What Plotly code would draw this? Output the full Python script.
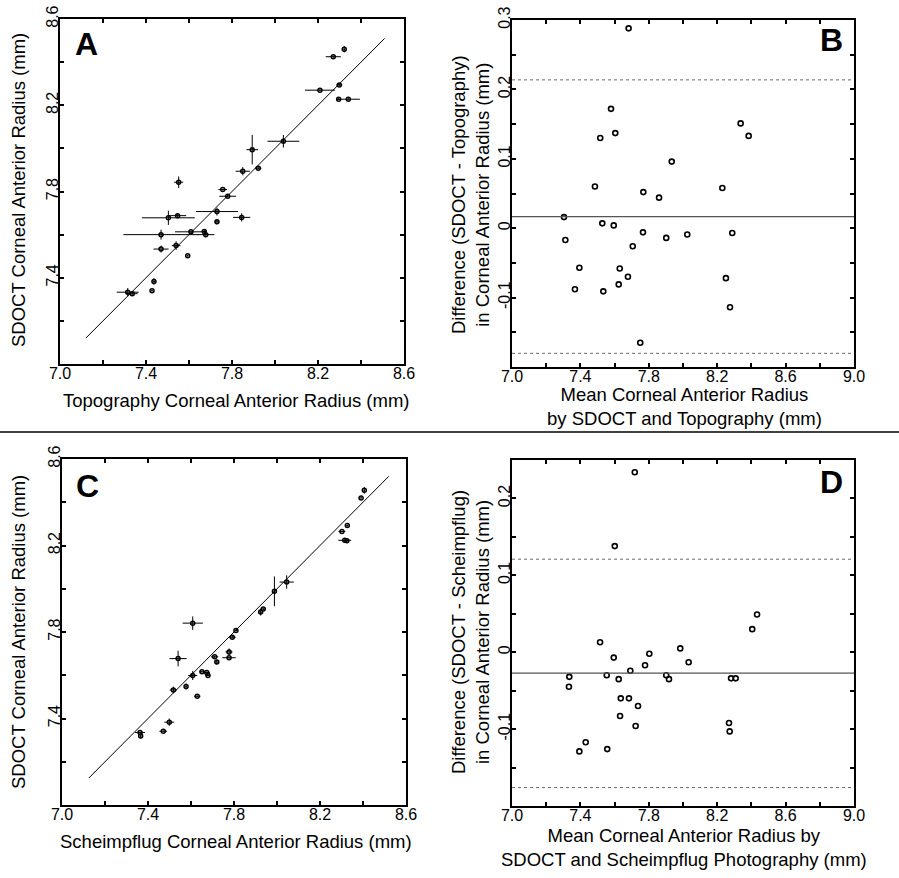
import plotly.graph_objects as go

# ---------------- Data ----------------
# Panel A: Topography (x) vs SDOCT (y), with SDs as error bars
topo_x = [8.322, 8.271, 8.209, 8.299, 8.296, 8.341, 8.039, 7.894, 7.922, 7.850,
          7.552, 7.757, 7.780, 7.730, 7.845, 7.730, 7.504, 7.547, 7.470, 7.609,
          7.671, 7.678, 7.470, 7.540, 7.594, 7.437, 7.428, 7.315, 7.336]
topo_sdoct_y = [8.460, 8.425, 8.270, 8.294, 8.228, 8.228, 8.033, 7.994, 7.908, 7.894,
                7.843, 7.809, 7.778, 7.707, 7.680, 7.660, 7.678, 7.688, 7.600, 7.613,
                7.615, 7.600, 7.533, 7.549, 7.502, 7.383, 7.340, 7.333, 7.326]
topo_xerr = [0.005, 0.035, 0.070, 0.014, 0.006, 0.054, 0.074, 0.027, 0.015, 0.033,
             0.021, 0.020, 0.039, 0.098, 0.040, 0.010, 0.123, 0.040, 0.175, 0.074,
             0.012, 0.040, 0.035, 0.020, 0.004, 0.006, 0.004, 0.051, 0.025]
topo_yerr = [0.015, 0.005, 0.004, 0.006, 0.004, 0.005, 0.029, 0.068, 0.006, 0.019,
             0.027, 0.004, 0.005, 0.018, 0.019, 0.012, 0.033, 0.012, 0.023, 0.006,
             0.010, 0.008, 0.016, 0.020, 0.004, 0.015, 0.004, 0.019, 0.006]

# Panel B: Bland-Altman SDOCT vs Topography
ba_topo_mean = [7.682, 7.579, 7.516, 7.604, 8.337, 8.384, 7.934, 7.485, 8.230, 7.768,
                7.860, 7.304, 7.528, 7.595, 7.312, 7.766, 7.902, 8.025, 8.288, 7.706,
                7.394, 7.630, 7.678, 7.624, 7.368, 7.534, 8.251, 8.275, 7.750]
ba_topo_diff = [0.288, 0.172, 0.130, 0.137, 0.151, 0.133, 0.096, 0.060, 0.058, 0.052,
                0.044, 0.016, 0.007, 0.004, -0.017, -0.006, -0.014, -0.009, -0.007, -0.026,
                -0.057, -0.058, -0.070, -0.081, -0.088, -0.091, -0.072, -0.114, -0.165]
ba_topo_bias = 0.0167
ba_topo_upper = 0.2137
ba_topo_lower = -0.1803

# Panel C: Scheimpflug (x) vs SDOCT (y)
sch_x = [8.406, 8.391, 8.327, 8.302, 8.315, 8.325, 8.045, 7.988, 7.924, 7.936,
         7.608, 7.809, 7.792, 7.540, 7.777, 7.777, 7.710, 7.720, 7.651, 7.673,
         7.679, 7.608, 7.518, 7.577, 7.629, 7.499, 7.471, 7.363, 7.366]
sch_sdoct_y = [8.455, 8.420, 8.292, 8.265, 8.224, 8.222, 8.031, 7.988, 7.892, 7.906,
               7.841, 7.807, 7.776, 7.677, 7.708, 7.681, 7.685, 7.661, 7.616, 7.613,
               7.599, 7.599, 7.532, 7.548, 7.503, 7.383, 7.341, 7.335, 7.319]
sch_xerr = [0.004, 0.004, 0.005, 0.016, 0.030, 0.010, 0.033, 0.005, 0.008, 0.010,
            0.047, 0.005, 0.016, 0.040, 0.016, 0.031, 0.017, 0.010, 0.012, 0.015,
            0.010, 0.021, 0.017, 0.004, 0.015, 0.023, 0.018, 0.023, 0.005]
sch_yerr = [0.015, 0.004, 0.005, 0.004, 0.004, 0.004, 0.031, 0.069, 0.016, 0.005,
            0.031, 0.005, 0.006, 0.036, 0.016, 0.005, 0.005, 0.010, 0.004, 0.004,
            0.004, 0.021, 0.015, 0.014, 0.004, 0.017, 0.004, 0.005, 0.010]

# Panel D: Bland-Altman SDOCT vs Scheimpflug
ba_sch_mean = [7.718, 7.601, 8.433, 8.405, 7.515, 7.984, 7.803, 7.595, 8.033, 7.778,
               7.692, 7.554, 7.335, 7.902, 7.918, 7.624, 8.281, 8.308, 7.333, 7.636,
               7.684, 7.737, 7.632, 8.269, 7.723, 8.273, 7.431, 7.394, 7.557]
ba_sch_diff = [0.234, 0.138, 0.049, 0.030, 0.013, 0.005, -0.002, -0.007, -0.013, -0.017,
               -0.024, -0.030, -0.032, -0.030, -0.035, -0.035, -0.034, -0.034, -0.045, -0.060,
               -0.060, -0.070, -0.083, -0.092, -0.096, -0.103, -0.117, -0.129, -0.126]
ba_sch_bias = -0.0273
ba_sch_upper = 0.121
ba_sch_lower = -0.176

# identity lines
ident_a = [7.12, 8.51]
ident_c = [7.125, 8.52]

# tick definitions
radius_ticks = [7.0, 7.2, 7.4, 7.6, 7.8, 8.0, 8.2, 8.4, 8.6]
radius_x_text = ["7.0", "", "7.4", "", "7.8", "", "8.2", "", "8.6"]
radius_y_text = ["", "", "7.4", "", "7.8", "", "8.2", "", "8.6"]
mean_ticks = [7.0, 7.2, 7.4, 7.6, 7.8, 8.0, 8.2, 8.4, 8.6, 8.8, 9.0]
mean_text = ["7.0", "", "7.4", "", "7.8", "", "8.2", "", "8.6", "", "9.0"]
diffB_ticks = [-0.2, -0.15, -0.1, -0.05, 0, 0.05, 0.1, 0.15, 0.2, 0.25, 0.3]
diffB_text = ["", "", "-0.1", "", "0", "", "0.1", "", "0.2", "", "0.3"]
diffD_ticks = [-0.2, -0.15, -0.1, -0.05, 0, 0.05, 0.1, 0.15, 0.2, 0.25]
diffD_text = ["", "", "-0.1", "", "0", "", "0.1", "", "0.2", ""]

W, H = 899, 878
FONT = "Arial, Liberation Sans, Helvetica, sans-serif"


def px_x(p):
    return p / W


def px_y(p):
    return 1 - p / H


fig = go.Figure()

err_style = dict(type="data", thickness=1, width=0, color="black")

# Panel A
fig.add_trace(go.Scatter(x=ident_a, y=ident_a, mode="lines",
                         line=dict(color="black", width=1), xaxis="x", yaxis="y",
                         showlegend=False, hoverinfo="skip"))
fig.add_trace(go.Scatter(x=topo_x, y=topo_sdoct_y, mode="markers",
                         marker=dict(symbol="circle-open", size=4, color="black",
                                     line=dict(width=1.5, color="black")),
                         error_x=dict(array=topo_xerr, **err_style),
                         error_y=dict(array=topo_yerr, **err_style),
                         xaxis="x", yaxis="y", showlegend=False))
# Panel B
fig.add_trace(go.Scatter(x=ba_topo_mean, y=ba_topo_diff, mode="markers",
                         marker=dict(symbol="circle-open", size=5, color="black",
                                     line=dict(width=1.6, color="black")),
                         xaxis="x2", yaxis="y2", showlegend=False))
# Panel C
fig.add_trace(go.Scatter(x=ident_c, y=ident_c, mode="lines",
                         line=dict(color="black", width=1), xaxis="x3", yaxis="y3",
                         showlegend=False, hoverinfo="skip"))
fig.add_trace(go.Scatter(x=sch_x, y=sch_sdoct_y, mode="markers",
                         marker=dict(symbol="circle-open", size=4, color="black",
                                     line=dict(width=1.5, color="black")),
                         error_x=dict(array=sch_xerr, **err_style),
                         error_y=dict(array=sch_yerr, **err_style),
                         xaxis="x3", yaxis="y3", showlegend=False))
# Panel D
fig.add_trace(go.Scatter(x=ba_sch_mean, y=ba_sch_diff, mode="markers",
                         marker=dict(symbol="circle-open", size=5, color="black",
                                     line=dict(width=1.6, color="black")),
                         xaxis="x4", yaxis="y4", showlegend=False))

axis_common = dict(showline=True, linecolor="black", linewidth=2, mirror="allticks",
                   ticks="inside", ticklen=4, tickwidth=1.5, tickcolor="black",
                   showgrid=False, zeroline=False, tickmode="array", automargin=False,
                   ticklabelstandoff=-6,
                   tickfont=dict(family=FONT, size=16, color="black"))

doms = {
    "A": ([px_x(60), px_x(404)], [px_y(364), px_y(19)]),
    "B": ([px_x(512), px_x(854)], [px_y(367), px_y(20)]),
    "C": ([px_x(62), px_x(406)], [px_y(805), px_y(459)]),
    "D": ([px_x(512), px_x(854)], [px_y(806), px_y(460)]),
}

fig.update_layout(
    xaxis=dict(domain=doms["A"][0], range=[7.0, 8.6], tickvals=radius_ticks,
               ticktext=radius_x_text, anchor="y", **axis_common),
    yaxis=dict(domain=doms["A"][1], range=[7.0, 8.6], tickvals=radius_ticks,
               ticktext=radius_y_text, tickangle=-90, anchor="x", **axis_common),
    xaxis2=dict(domain=doms["B"][0], range=[7.0, 9.0], tickvals=mean_ticks,
                ticktext=mean_text, anchor="y2", **axis_common),
    yaxis2=dict(domain=doms["B"][1], range=[-0.2, 0.3], tickvals=diffB_ticks,
                ticktext=diffB_text, tickangle=-90, anchor="x2", **axis_common),
    xaxis3=dict(domain=doms["C"][0], range=[7.0, 8.6], tickvals=radius_ticks,
                ticktext=radius_x_text, anchor="y3", **axis_common),
    yaxis3=dict(domain=doms["C"][1], range=[7.0, 8.6], tickvals=radius_ticks,
                ticktext=radius_y_text, tickangle=-90, anchor="x3", **axis_common),
    xaxis4=dict(domain=doms["D"][0], range=[7.0, 9.0], tickvals=mean_ticks,
                ticktext=mean_text, anchor="y4", **axis_common),
    yaxis4=dict(domain=doms["D"][1], range=[-0.2, 0.25], tickvals=diffD_ticks,
                ticktext=diffD_text, tickangle=-90, anchor="x4", **axis_common),
)

shapes = []
# Bland-Altman lines
for xr, yr, bias, up, lo in [("x2 domain", "y2", ba_topo_bias, ba_topo_upper, ba_topo_lower),
                             ("x4 domain", "y4", ba_sch_bias, ba_sch_upper, ba_sch_lower)]:
    shapes.append(dict(type="line", xref=xr, yref=yr, x0=0, x1=1, y0=bias, y1=bias,
                       line=dict(color="#555555", width=1.2)))
    for v in (up, lo):
        shapes.append(dict(type="line", xref=xr, yref=yr, x0=0, x1=1, y0=v, y1=v,
                           line=dict(color="#444444", width=0.8, dash="dot")))
# separator between rows
shapes.append(dict(type="line", xref="paper", yref="paper", x0=0, x1=1,
                   y0=px_y(432), y1=px_y(432), line=dict(color="black", width=1.5)))

TF = dict(family=FONT, size=18.5, color="black")
annotations = [
    # panel letters
    dict(text="<b>A</b>", x=px_x(86), y=px_y(44), font=dict(family=FONT, size=32, color="black")),
    dict(text="<b>B</b>", x=px_x(831), y=px_y(40), font=dict(family=FONT, size=32, color="black")),
    dict(text="<b>C</b>", x=px_x(87), y=px_y(486), font=dict(family=FONT, size=32, color="black")),
    dict(text="<b>D</b>", x=px_x(831), y=px_y(482), font=dict(family=FONT, size=32, color="black")),
    # axis titles
    dict(text="Topography Corneal Anterior Radius (mm)", x=px_x(236), y=px_y(400), font=TF),
    dict(text="SDOCT Corneal Anterior Radius (mm)", x=px_x(18), y=px_y(190), textangle=-90, font=TF),
    dict(text="Mean Corneal Anterior Radius<br>by SDOCT and Topography (mm)",
         x=px_x(684), y=px_y(406), font=TF),
    dict(text="Difference (SDOCT - Topography)<br>in Corneal Anterior Radius (mm)",
         x=px_x(470), y=px_y(194), textangle=-90, font=TF),
    dict(text="Scheimpflug Corneal Anterior Radius (mm)", x=px_x(236), y=px_y(841), font=TF),
    dict(text="SDOCT Corneal Anterior Radius (mm)", x=px_x(18), y=px_y(632), textangle=-90, font=TF),
    dict(text="Mean Corneal Anterior Radius by<br>SDOCT and Scheimpflug Photography (mm)",
         x=px_x(684), y=px_y(847), font=TF),
    dict(text="Difference (SDOCT - Scheimpflug)<br>in Corneal Anterior Radius (mm)",
         x=px_x(470), y=px_y(632), textangle=-90, font=TF),
]
for a in annotations:
    a.update(xref="paper", yref="paper", showarrow=False, xanchor="center", yanchor="middle")

fig.update_layout(
    width=W, height=H, margin=dict(l=0, r=0, t=0, b=0, pad=0, autoexpand=False),
    paper_bgcolor="white", plot_bgcolor="white",
    shapes=shapes, annotations=annotations, showlegend=False,
    font=dict(family=FONT, color="black"),
)

fig.write_html("out.html", config={"displayModeBar": False},
               post_script="document.body.style.margin='0';document.body.style.overflow='hidden';")
